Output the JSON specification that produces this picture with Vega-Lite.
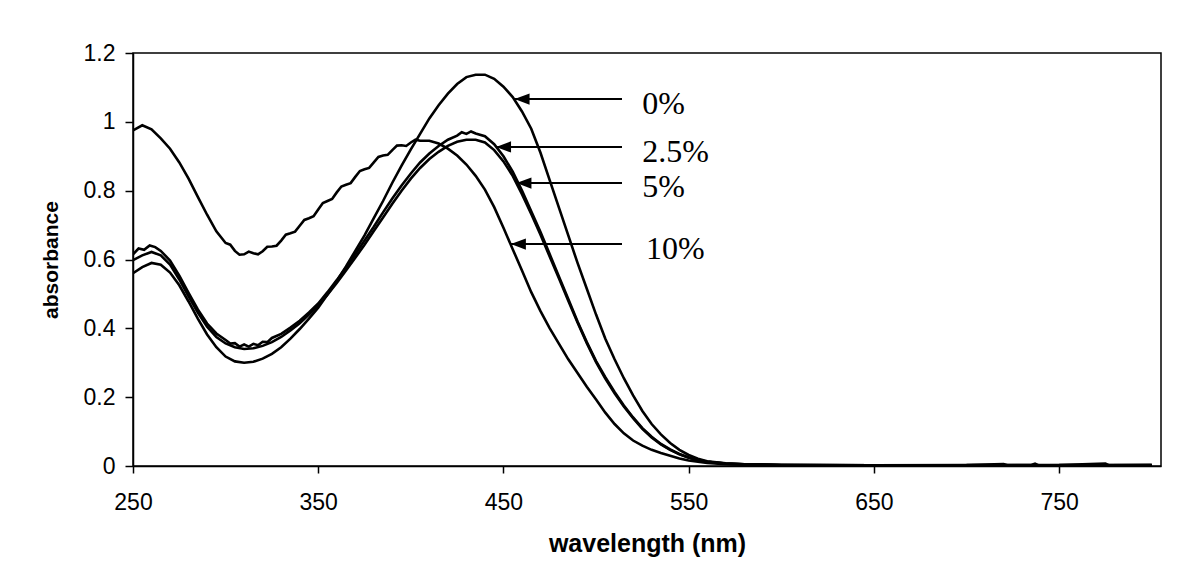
{
  "$schema": "https://vega.github.io/schema/vega-lite/v6.json",
  "width": 1028,
  "height": 413,
  "autosize": "none",
  "padding": {"left": 133, "top": 53, "right": 31, "bottom": 117},
  "background": "white",
  "config": {
    "view": {"stroke": "black", "strokeWidth": 1.5},
    "axis": {"domainColor": "black", "domainWidth": 1.5, "tickColor": "black", "tickWidth": 1.5, "grid": false,
             "labelFont": "Liberation Sans", "labelFontSize": 23, "labelColor": "black", "labelFlush": false,
             "titleFont": "Liberation Sans", "titleFontWeight": "bold", "titleColor": "black"}
  },
  "datasets": {
    "spectra": [
      {"s":"0%","nm":250,"A":0.56},{"s":"0%","nm":255,"A":0.578},{"s":"0%","nm":260,"A":0.59},{"s":"0%","nm":265,"A":0.585},{"s":"0%","nm":270,"A":0.562},{"s":"0%","nm":275,"A":0.525},{"s":"0%","nm":280,"A":0.478},{"s":"0%","nm":285,"A":0.428},{"s":"0%","nm":290,"A":0.382},{"s":"0%","nm":295,"A":0.345},{"s":"0%","nm":300,"A":0.318},{"s":"0%","nm":305,"A":0.304},{"s":"0%","nm":310,"A":0.3},{"s":"0%","nm":315,"A":0.303},{"s":"0%","nm":320,"A":0.312},{"s":"0%","nm":325,"A":0.326},{"s":"0%","nm":330,"A":0.345},{"s":"0%","nm":335,"A":0.37},{"s":"0%","nm":340,"A":0.398},{"s":"0%","nm":345,"A":0.428},{"s":"0%","nm":350,"A":0.46},{"s":"0%","nm":355,"A":0.498},{"s":"0%","nm":360,"A":0.538},{"s":"0%","nm":365,"A":0.58},{"s":"0%","nm":370,"A":0.625},{"s":"0%","nm":375,"A":0.67},{"s":"0%","nm":380,"A":0.72},{"s":"0%","nm":385,"A":0.77},{"s":"0%","nm":390,"A":0.823},{"s":"0%","nm":395,"A":0.873},{"s":"0%","nm":400,"A":0.92},{"s":"0%","nm":405,"A":0.965},{"s":"0%","nm":410,"A":1.01},{"s":"0%","nm":415,"A":1.048},{"s":"0%","nm":420,"A":1.082},{"s":"0%","nm":425,"A":1.11},{"s":"0%","nm":430,"A":1.13},{"s":"0%","nm":435,"A":1.137},{"s":"0%","nm":440,"A":1.137},{"s":"0%","nm":445,"A":1.125},{"s":"0%","nm":450,"A":1.102},{"s":"0%","nm":455,"A":1.072},{"s":"0%","nm":460,"A":1.03},{"s":"0%","nm":465,"A":0.98},{"s":"0%","nm":470,"A":0.91},{"s":"0%","nm":475,"A":0.83},{"s":"0%","nm":480,"A":0.75},{"s":"0%","nm":485,"A":0.67},{"s":"0%","nm":490,"A":0.59},{"s":"0%","nm":495,"A":0.515},{"s":"0%","nm":500,"A":0.44},{"s":"0%","nm":505,"A":0.37},{"s":"0%","nm":510,"A":0.31},{"s":"0%","nm":515,"A":0.255},{"s":"0%","nm":520,"A":0.205},{"s":"0%","nm":525,"A":0.16},{"s":"0%","nm":530,"A":0.122},{"s":"0%","nm":535,"A":0.092},{"s":"0%","nm":540,"A":0.067},{"s":"0%","nm":545,"A":0.047},{"s":"0%","nm":550,"A":0.032},{"s":"0%","nm":555,"A":0.021},{"s":"0%","nm":560,"A":0.014},{"s":"0%","nm":570,"A":0.008},{"s":"0%","nm":580,"A":0.005},{"s":"0%","nm":600,"A":0.003},{"s":"0%","nm":650,"A":0.002},{"s":"0%","nm":700,"A":0.002},{"s":"0%","nm":750,"A":0.002},{"s":"0%","nm":800,"A":0.002},

      {"s":"2.5%","nm":250,"A":0.615},{"s":"2.5%","nm":253,"A":0.632},{"s":"2.5%","nm":256,"A":0.628},{"s":"2.5%","nm":259,"A":0.641},{"s":"2.5%","nm":262,"A":0.636},{"s":"2.5%","nm":265,"A":0.625},{"s":"2.5%","nm":270,"A":0.597},{"s":"2.5%","nm":275,"A":0.553},{"s":"2.5%","nm":280,"A":0.503},{"s":"2.5%","nm":285,"A":0.455},{"s":"2.5%","nm":290,"A":0.414},{"s":"2.5%","nm":295,"A":0.385},{"s":"2.5%","nm":300,"A":0.366},{"s":"2.5%","nm":302.5,"A":0.356},{"s":"2.5%","nm":305,"A":0.357},{"s":"2.5%","nm":307.5,"A":0.347},{"s":"2.5%","nm":310,"A":0.353},{"s":"2.5%","nm":312.5,"A":0.347},{"s":"2.5%","nm":315,"A":0.355},{"s":"2.5%","nm":317.5,"A":0.351},{"s":"2.5%","nm":320,"A":0.361},{"s":"2.5%","nm":322.5,"A":0.36},{"s":"2.5%","nm":325,"A":0.372},{"s":"2.5%","nm":330,"A":0.384},{"s":"2.5%","nm":335,"A":0.402},{"s":"2.5%","nm":340,"A":0.422},{"s":"2.5%","nm":345,"A":0.446},{"s":"2.5%","nm":350,"A":0.472},{"s":"2.5%","nm":355,"A":0.505},{"s":"2.5%","nm":360,"A":0.54},{"s":"2.5%","nm":365,"A":0.577},{"s":"2.5%","nm":370,"A":0.615},{"s":"2.5%","nm":375,"A":0.655},{"s":"2.5%","nm":380,"A":0.695},{"s":"2.5%","nm":385,"A":0.737},{"s":"2.5%","nm":390,"A":0.777},{"s":"2.5%","nm":395,"A":0.815},{"s":"2.5%","nm":400,"A":0.85},{"s":"2.5%","nm":405,"A":0.882},{"s":"2.5%","nm":410,"A":0.908},{"s":"2.5%","nm":415,"A":0.93},{"s":"2.5%","nm":420,"A":0.948},{"s":"2.5%","nm":425,"A":0.96},{"s":"2.5%","nm":427.5,"A":0.97},{"s":"2.5%","nm":430,"A":0.965},{"s":"2.5%","nm":432.5,"A":0.972},{"s":"2.5%","nm":435,"A":0.966},{"s":"2.5%","nm":440,"A":0.958},{"s":"2.5%","nm":445,"A":0.935},{"s":"2.5%","nm":450,"A":0.9},{"s":"2.5%","nm":455,"A":0.855},{"s":"2.5%","nm":460,"A":0.8},{"s":"2.5%","nm":465,"A":0.74},{"s":"2.5%","nm":470,"A":0.68},{"s":"2.5%","nm":475,"A":0.615},{"s":"2.5%","nm":480,"A":0.55},{"s":"2.5%","nm":485,"A":0.485},{"s":"2.5%","nm":490,"A":0.42},{"s":"2.5%","nm":495,"A":0.36},{"s":"2.5%","nm":500,"A":0.305},{"s":"2.5%","nm":505,"A":0.258},{"s":"2.5%","nm":510,"A":0.215},{"s":"2.5%","nm":515,"A":0.176},{"s":"2.5%","nm":520,"A":0.141},{"s":"2.5%","nm":525,"A":0.11},{"s":"2.5%","nm":530,"A":0.085},{"s":"2.5%","nm":535,"A":0.064},{"s":"2.5%","nm":540,"A":0.048},{"s":"2.5%","nm":545,"A":0.035},{"s":"2.5%","nm":550,"A":0.025},{"s":"2.5%","nm":555,"A":0.017},{"s":"2.5%","nm":560,"A":0.012},{"s":"2.5%","nm":570,"A":0.007},{"s":"2.5%","nm":580,"A":0.005},{"s":"2.5%","nm":600,"A":0.003},{"s":"2.5%","nm":650,"A":0.002},{"s":"2.5%","nm":700,"A":0.003},{"s":"2.5%","nm":720,"A":0.006},{"s":"2.5%","nm":722,"A":0.002},{"s":"2.5%","nm":750,"A":0.003},{"s":"2.5%","nm":775,"A":0.007},{"s":"2.5%","nm":777,"A":0.002},{"s":"2.5%","nm":800,"A":0.003},

      {"s":"5%","nm":250,"A":0.598},{"s":"5%","nm":255,"A":0.612},{"s":"5%","nm":260,"A":0.622},{"s":"5%","nm":265,"A":0.612},{"s":"5%","nm":270,"A":0.585},{"s":"5%","nm":275,"A":0.542},{"s":"5%","nm":280,"A":0.493},{"s":"5%","nm":285,"A":0.446},{"s":"5%","nm":290,"A":0.405},{"s":"5%","nm":295,"A":0.375},{"s":"5%","nm":300,"A":0.356},{"s":"5%","nm":305,"A":0.345},{"s":"5%","nm":310,"A":0.34},{"s":"5%","nm":315,"A":0.342},{"s":"5%","nm":320,"A":0.349},{"s":"5%","nm":325,"A":0.36},{"s":"5%","nm":330,"A":0.375},{"s":"5%","nm":335,"A":0.394},{"s":"5%","nm":340,"A":0.415},{"s":"5%","nm":345,"A":0.44},{"s":"5%","nm":350,"A":0.467},{"s":"5%","nm":355,"A":0.498},{"s":"5%","nm":360,"A":0.532},{"s":"5%","nm":365,"A":0.568},{"s":"5%","nm":370,"A":0.605},{"s":"5%","nm":375,"A":0.643},{"s":"5%","nm":380,"A":0.683},{"s":"5%","nm":385,"A":0.722},{"s":"5%","nm":390,"A":0.762},{"s":"5%","nm":395,"A":0.8},{"s":"5%","nm":400,"A":0.835},{"s":"5%","nm":405,"A":0.866},{"s":"5%","nm":410,"A":0.892},{"s":"5%","nm":415,"A":0.913},{"s":"5%","nm":420,"A":0.93},{"s":"5%","nm":425,"A":0.942},{"s":"5%","nm":430,"A":0.948},{"s":"5%","nm":435,"A":0.948},{"s":"5%","nm":440,"A":0.94},{"s":"5%","nm":445,"A":0.918},{"s":"5%","nm":450,"A":0.885},{"s":"5%","nm":455,"A":0.843},{"s":"5%","nm":460,"A":0.79},{"s":"5%","nm":465,"A":0.732},{"s":"5%","nm":470,"A":0.672},{"s":"5%","nm":475,"A":0.608},{"s":"5%","nm":480,"A":0.545},{"s":"5%","nm":485,"A":0.48},{"s":"5%","nm":490,"A":0.417},{"s":"5%","nm":495,"A":0.357},{"s":"5%","nm":500,"A":0.302},{"s":"5%","nm":505,"A":0.254},{"s":"5%","nm":510,"A":0.211},{"s":"5%","nm":515,"A":0.173},{"s":"5%","nm":520,"A":0.139},{"s":"5%","nm":525,"A":0.108},{"s":"5%","nm":530,"A":0.083},{"s":"5%","nm":535,"A":0.063},{"s":"5%","nm":540,"A":0.047},{"s":"5%","nm":545,"A":0.034},{"s":"5%","nm":550,"A":0.024},{"s":"5%","nm":555,"A":0.017},{"s":"5%","nm":560,"A":0.012},{"s":"5%","nm":570,"A":0.007},{"s":"5%","nm":580,"A":0.005},{"s":"5%","nm":600,"A":0.003},{"s":"5%","nm":650,"A":0.002},{"s":"5%","nm":700,"A":0.003},{"s":"5%","nm":735,"A":0.003},{"s":"5%","nm":737,"A":0.007},{"s":"5%","nm":739,"A":0.002},{"s":"5%","nm":800,"A":0.003},

      {"s":"10%","nm":250,"A":0.975},{"s":"10%","nm":255,"A":0.99},{"s":"10%","nm":260,"A":0.978},{"s":"10%","nm":265,"A":0.952},{"s":"10%","nm":270,"A":0.922},{"s":"10%","nm":275,"A":0.882},{"s":"10%","nm":280,"A":0.835},{"s":"10%","nm":285,"A":0.782},{"s":"10%","nm":290,"A":0.73},{"s":"10%","nm":295,"A":0.682},{"s":"10%","nm":300,"A":0.648},{"s":"10%","nm":302.5,"A":0.643},{"s":"10%","nm":305,"A":0.625},{"s":"10%","nm":307.5,"A":0.614},{"s":"10%","nm":310,"A":0.615},{"s":"10%","nm":312.5,"A":0.623},{"s":"10%","nm":315,"A":0.618},{"s":"10%","nm":317.5,"A":0.615},{"s":"10%","nm":320,"A":0.624},{"s":"10%","nm":322.5,"A":0.637},{"s":"10%","nm":325,"A":0.638},{"s":"10%","nm":327.5,"A":0.64},{"s":"10%","nm":330,"A":0.655},{"s":"10%","nm":332.5,"A":0.672},{"s":"10%","nm":335,"A":0.676},{"s":"10%","nm":337.5,"A":0.681},{"s":"10%","nm":340,"A":0.698},{"s":"10%","nm":342.5,"A":0.715},{"s":"10%","nm":345,"A":0.72},{"s":"10%","nm":347.5,"A":0.726},{"s":"10%","nm":350,"A":0.745},{"s":"10%","nm":352.5,"A":0.764},{"s":"10%","nm":355,"A":0.77},{"s":"10%","nm":357.5,"A":0.776},{"s":"10%","nm":360,"A":0.795},{"s":"10%","nm":362.5,"A":0.812},{"s":"10%","nm":365,"A":0.817},{"s":"10%","nm":367.5,"A":0.822},{"s":"10%","nm":370,"A":0.84},{"s":"10%","nm":372.5,"A":0.857},{"s":"10%","nm":375,"A":0.862},{"s":"10%","nm":377.5,"A":0.866},{"s":"10%","nm":380,"A":0.882},{"s":"10%","nm":382.5,"A":0.898},{"s":"10%","nm":385,"A":0.902},{"s":"10%","nm":387.5,"A":0.904},{"s":"10%","nm":390,"A":0.918},{"s":"10%","nm":392.5,"A":0.931},{"s":"10%","nm":395,"A":0.932},{"s":"10%","nm":397.5,"A":0.93},{"s":"10%","nm":400,"A":0.94},{"s":"10%","nm":402.5,"A":0.948},{"s":"10%","nm":405,"A":0.945},{"s":"10%","nm":410,"A":0.945},{"s":"10%","nm":415,"A":0.937},{"s":"10%","nm":420,"A":0.922},{"s":"10%","nm":425,"A":0.902},{"s":"10%","nm":430,"A":0.876},{"s":"10%","nm":435,"A":0.843},{"s":"10%","nm":440,"A":0.803},{"s":"10%","nm":445,"A":0.752},{"s":"10%","nm":450,"A":0.692},{"s":"10%","nm":455,"A":0.63},{"s":"10%","nm":460,"A":0.568},{"s":"10%","nm":465,"A":0.505},{"s":"10%","nm":470,"A":0.45},{"s":"10%","nm":475,"A":0.4},{"s":"10%","nm":480,"A":0.355},{"s":"10%","nm":485,"A":0.31},{"s":"10%","nm":490,"A":0.27},{"s":"10%","nm":495,"A":0.23},{"s":"10%","nm":500,"A":0.193},{"s":"10%","nm":505,"A":0.155},{"s":"10%","nm":510,"A":0.122},{"s":"10%","nm":515,"A":0.095},{"s":"10%","nm":520,"A":0.074},{"s":"10%","nm":525,"A":0.059},{"s":"10%","nm":530,"A":0.047},{"s":"10%","nm":535,"A":0.038},{"s":"10%","nm":540,"A":0.03},{"s":"10%","nm":545,"A":0.022},{"s":"10%","nm":550,"A":0.016},{"s":"10%","nm":560,"A":0.009},{"s":"10%","nm":570,"A":0.005},{"s":"10%","nm":580,"A":0.004},{"s":"10%","nm":600,"A":0.003},{"s":"10%","nm":650,"A":0.002},{"s":"10%","nm":700,"A":0.002},{"s":"10%","nm":750,"A":0.003},{"s":"10%","nm":800,"A":0.003}
    ],
    "labels": [
      {"label":"0%","tip":456,"end":514,"A":1.066,"tx":525,"ty":1.023},
      {"label":"2.5%","tip":446,"end":514,"A":0.927,"tx":525,"ty":0.883},
      {"label":"5%","tip":457,"end":514,"A":0.822,"tx":525,"ty":0.782},
      {"label":"10%","tip":454,"end":514,"A":0.645,"tx":527,"ty":0.601}
    ]
  },
  "layer": [
    {
      "data": {"name": "spectra"},
      "mark": {"type": "line", "color": "black", "strokeWidth": 2.6, "clip": true},
      "encoding": {
        "x": {"field": "nm", "type": "quantitative", "scale": {"domain": [250, 805], "nice": false, "zero": false},
              "axis": {"title": "wavelength (nm)", "titleFontSize": 25, "values": [250, 350, 450, 550, 650, 750], "tickSize": 7, "labelPadding": 18, "titlePadding": 17}},
        "y": {"field": "A", "type": "quantitative", "scale": {"domain": [0, 1.2], "nice": false},
              "axis": {"title": "absorbance", "titleFontSize": 21, "values": [0, 0.2, 0.4, 0.6, 0.8, 1, 1.2], "format": ".1~f", "tickSize": 8, "labelPadding": 10, "titlePadding": 22}},
        "detail": {"field": "s", "type": "nominal"}
      }
    },
    {
      "data": {"name": "labels"},
      "mark": {"type": "rule", "color": "black", "strokeWidth": 2},
      "encoding": {
        "x": {"field": "tip", "type": "quantitative"},
        "x2": {"field": "end"},
        "y": {"field": "A", "type": "quantitative"}
      }
    },
    {
      "data": {"name": "labels"},
      "mark": {"type": "point", "shape": "M0,0L2,-0.75L2,0.75Z", "filled": true, "color": "black", "opacity": 1, "size": 225},
      "encoding": {
        "x": {"field": "tip", "type": "quantitative"},
        "y": {"field": "A", "type": "quantitative"}
      }
    },
    {
      "data": {"name": "labels"},
      "mark": {"type": "text", "font": "Liberation Serif", "fontSize": 32, "align": "left", "baseline": "alphabetic", "color": "black"},
      "encoding": {
        "x": {"field": "tx", "type": "quantitative"},
        "y": {"field": "ty", "type": "quantitative"},
        "text": {"field": "label"}
      }
    }
  ]
}
